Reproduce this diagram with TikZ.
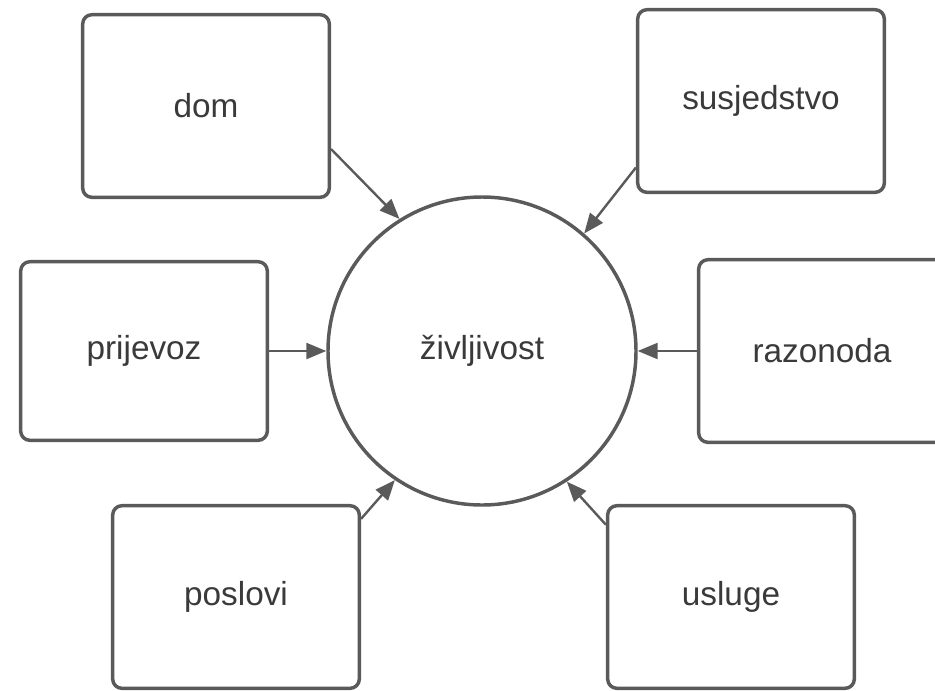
\documentclass[tikz,border=0pt]{standalone}
\usepackage{fontspec}
\setmainfont{Liberation Sans}
\usetikzlibrary{arrows.meta}

\definecolor{rub}{HTML}{5A5A5A}
\definecolor{tekst}{HTML}{3A3A3A}

\tikzset{
  okvir/.style={draw=rub,line width=2.6pt,rounded corners=7pt,fill=white,
    minimum width=185pt,minimum height=137pt,text=tekst,
    font=\fontsize{25}{30}\selectfont},
  krug/.style={draw=rub,line width=2.6pt,circle,minimum size=231pt,
    inner sep=0pt,text=tekst,font=\fontsize{25}{30}\selectfont},
  veza/.style={draw=rub,line width=1.8pt,-{Triangle[length=15pt,width=12pt]}}
}

\begin{document}
\begin{tikzpicture}[x=0.75pt,y=-0.75pt]
\useasboundingbox (0,0) rectangle (935,690);
\node (ziv) at (482,351) [krug] {življivost};
\node (dom) at (206,106) [okvir] {dom};
\node (susjedstvo) at (761,101) [okvir] {susjedstvo};
\node (prijevoz) at (144,351) [okvir,minimum height=134pt] {prijevoz};
\node (razonoda) at (822,351) [okvir] {razonoda};
\node (poslovi) at (236,597) [okvir] {poslovi};
\node (usluge) at (731,597) [okvir] {usluge};
\path
(dom.-19) edge [veza] (ziv.122)
(susjedstvo.208) edge [veza] (ziv.49)
(prijevoz.east) edge [veza] (ziv.west)
(razonoda.west) edge [veza] (ziv.east)
(poslovi.32) edge [veza] (ziv.236)
(usluge.150) edge [veza] (ziv.303);
\end{tikzpicture}
\end{document}
